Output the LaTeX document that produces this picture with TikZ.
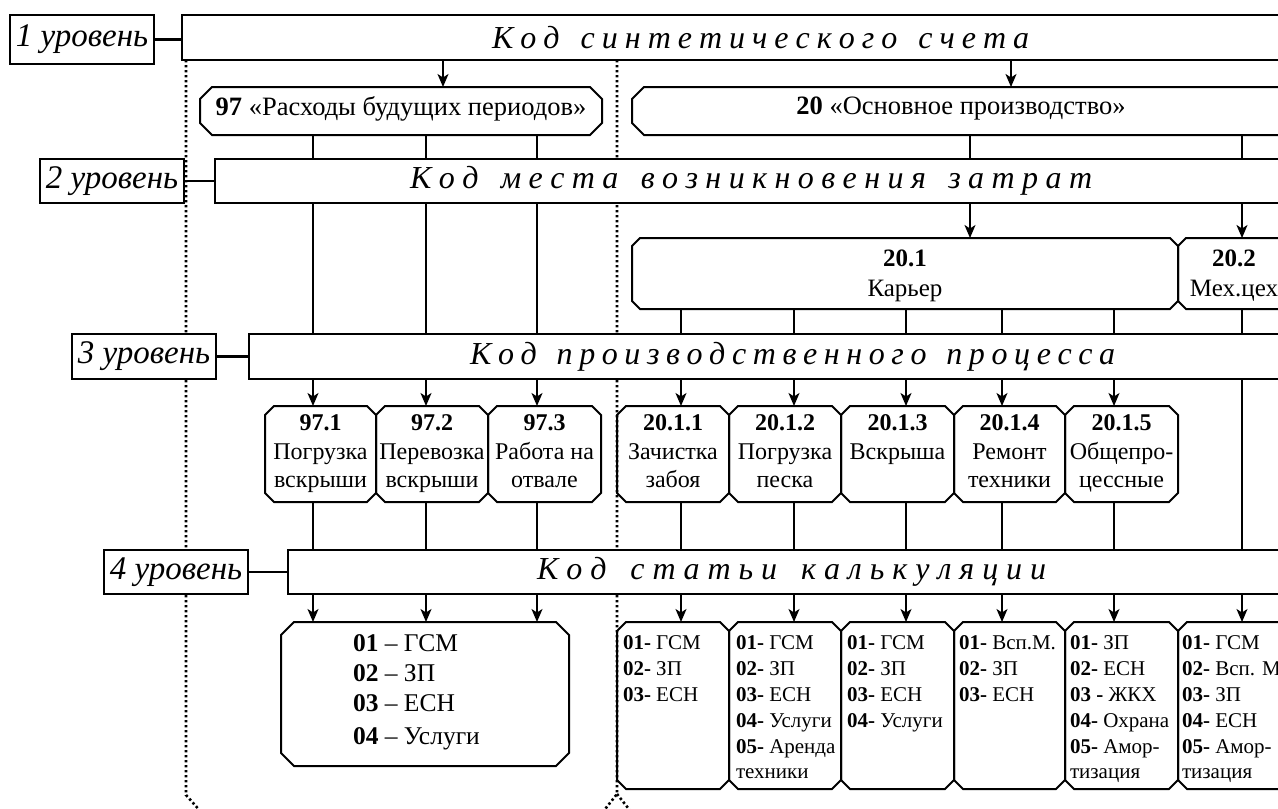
\documentclass[tikz,border=0pt]{standalone}
\usepackage{fontspec}
\setmainfont{Liberation Serif}
\usetikzlibrary{arrows.meta,calc}

\newcommand\fntbox{\fontsize{24}{28.5}\selectfont}
\newcommand\fntacc{\fontsize{26.5}{30}\selectfont}
\newcommand\fntplace{\fontsize{25}{30}\selectfont}
\newcommand\fntlab{\fontsize{33}{36}\selectfont\itshape}
\newcommand\fnthead{\fontsize{32}{36}\selectfont\itshape}
\newcommand\fntsmall{\fontsize{21}{25.8}\selectfont}
\newcommand\fntlist{\fontsize{25.5}{30}\selectfont}
\newcommand\ltgap{\hfill}
\newcommand\wdgap{\hfill\hfill\hfill}
% octagonal frame round a named node, #2 = corner cut
\newcommand\octframe[2]{\draw[octline]
  ($(#1.north west)+(#2,0)$) -- ($(#1.north east)+(-#2,0)$) --
  ($(#1.north east)+(0,#2)$) -- ($(#1.south east)+(0,-#2)$) --
  ($(#1.south east)+(-#2,0)$) -- ($(#1.south west)+(#2,0)$) --
  ($(#1.south west)+(0,-#2)$) -- ($(#1.north west)+(0,#2)$) -- cycle;}

\tikzset{
  levelbox/.style={draw, line width=2.6pt, fill=white, inner sep=0pt, outer sep=0pt,
    minimum width=144pt, font=\fntlab},
  mainbox/.style={draw, line width=2.6pt, fill=white, inner sep=0pt, outer sep=0pt,
    anchor=north west},
  cell/.style={inner sep=0pt, outer sep=0pt, anchor=north west},
  octline/.style={line width=2pt},
  conn/.style={line width=1.7pt},
  arr/.style={line width=1.7pt, -{Stealth[length=13pt,width=11pt,inset=3.5pt]}},
  sepline/.style={line width=2.6pt, dash pattern=on 2.4pt off 2.6pt},
  txt/.style={inner sep=0pt, outer sep=0pt, align=center, font=\fntbox},
  lst/.style={inner sep=0pt, outer sep=0pt, align=left, anchor=north west, font=\fntsmall},
  head/.style={anchor=west, inner sep=0pt, font=\fnthead},
}

\begin{document}
\begin{tikzpicture}[x=1pt,y=-1pt]
\useasboundingbox (0,0) rectangle (1278,809);
\clip (0,0) rectangle (1278,809);

% column positions
\coordinate (xq) at (443,0);
\coordinate (xr) at (1011,0);
\coordinate (xs) at (970,0);
\coordinate (xa) at (313,0);
\coordinate (xb) at (426,0);
\coordinate (xc) at (537,0);
\coordinate (xd) at (681,0);
\coordinate (xe) at (794,0);
\coordinate (xf) at (906,0);
\coordinate (xg) at (1002,0);
\coordinate (xh) at (1114,0);
\coordinate (xi) at (1242,0);

% dotted separators
\coordinate (s1a) at (186,60);
\coordinate (s1b) at (186,795);
\coordinate (s1c) at (202,813);
\coordinate (s2a) at (617,60);
\coordinate (s2b) at (617,794);
\coordinate (s2l) at (602,813);
\coordinate (s2r) at (632,813);
\draw[sepline] (s1a) -- (s1b) -- (s1c);
\draw[sepline] (s2a) -- (s2b) -- (s2l);
\draw[sepline] (s2b) -- (s2r);

% level bars
\node[mainbox, minimum width=1120, minimum height=45] (L1) at (182,15) {};
\node[mainbox, minimum width=1090, minimum height=44] (L2) at (215,159) {};
\node[mainbox, minimum width=1060, minimum height=45] (L3) at (249,334) {};
\node[mainbox, minimum width=1020, minimum height=44] (L4) at (288,550) {};

% level labels
\node[levelbox, minimum height=49] (G1) at (82,39.5) {1 уровень};
\node[levelbox, minimum height=44] (G2) at (112,181) {2 уровень};
\node[levelbox, minimum height=45] (G3) at (144,356.5) {3 уровень};
\node[levelbox, minimum height=44] (G4) at (176,572) {4 уровень};
\draw[conn, line width=2.2pt] (G1.east) -- (G1.east -| L1.west);
\draw[conn, line width=2.2pt] (G2.east) -- (G2.east -| L2.west);
\draw[conn, line width=2.2pt] (G3.east) -- (G3.east -| L3.west);
\draw[conn, line width=2.2pt] (G4.east) -- (G4.east -| L4.west);

% letter-spaced headings
\node[head] (h1) at (492,38) {\makebox[537pt][l]{%
К\ltgap о\ltgap д\wdgap с\ltgap и\ltgap н\ltgap т\ltgap е\ltgap т\ltgap и\ltgap ч\ltgap е\ltgap с\ltgap к\ltgap о\ltgap г\ltgap о\wdgap с\ltgap ч\ltgap е\ltgap т\ltgap а}};
\node[head] (h2) at (410,181) {\makebox[682pt][l]{%
К\ltgap о\ltgap д\wdgap м\ltgap е\ltgap с\ltgap т\ltgap а\wdgap в\ltgap о\ltgap з\ltgap н\ltgap и\ltgap к\ltgap н\ltgap о\ltgap в\ltgap е\ltgap н\ltgap и\ltgap я\wdgap з\ltgap а\ltgap т\ltgap р\ltgap а\ltgap т}};
\node[head] (h3) at (470,357) {\makebox[645pt][l]{%
К\ltgap о\ltgap д\wdgap п\ltgap р\ltgap о\ltgap и\ltgap з\ltgap в\ltgap о\ltgap д\ltgap с\ltgap т\ltgap в\ltgap е\ltgap н\ltgap н\ltgap о\ltgap г\ltgap о\wdgap п\ltgap р\ltgap о\ltgap ц\ltgap е\ltgap с\ltgap с\ltgap а}};
\node[head] (h4) at (537,572) {\makebox[509pt][l]{%
К\ltgap о\ltgap д\wdgap с\ltgap т\ltgap а\ltgap т\ltgap ь\ltgap и\wdgap к\ltgap а\ltgap л\ltgap ь\ltgap к\ltgap у\ltgap л\ltgap я\ltgap ц\ltgap и\ltgap и}};

% accounts
\node[cell, minimum width=402, minimum height=48] (b97) at (200,87) {};
\node[cell, minimum width=668, minimum height=48] (b20) at (632,87) {};
% places of cost origin
\node[cell, minimum width=546, minimum height=71] (c201) at (632,238) {};
\node[cell, minimum width=122, minimum height=71] (c202) at (1178,238) {};
% processes
\node[cell, minimum width=111, minimum height=96] (p971) at (265,406) {};
\node[cell, minimum width=112, minimum height=96] (p972) at (376,406) {};
\node[cell, minimum width=113, minimum height=96] (p973) at (488,406) {};
\node[cell, minimum width=112, minimum height=96] (p2011) at (617,406) {};
\node[cell, minimum width=112, minimum height=96] (p2012) at (729,406) {};
\node[cell, minimum width=113, minimum height=96] (p2013) at (841,406) {};
\node[cell, minimum width=111, minimum height=96] (p2014) at (954,406) {};
\node[cell, minimum width=113, minimum height=96] (p2015) at (1065,406) {};
% cost items
\node[cell, minimum width=288, minimum height=144] (k97) at (281,622) {};
\node[cell, minimum width=112, minimum height=167] (k1) at (617,622) {};
\node[cell, minimum width=112, minimum height=167] (k2) at (729,622) {};
\node[cell, minimum width=113, minimum height=167] (k3) at (841,622) {};
\node[cell, minimum width=111, minimum height=167] (k4) at (954,622) {};
\node[cell, minimum width=113, minimum height=167] (k5) at (1065,622) {};
\node[cell, minimum width=122, minimum height=167] (k6) at (1178,622) {};

\octframe{b97}{12}
\octframe{b20}{12}
\octframe{c201}{8}
\octframe{c202}{8}
\foreach \n in {p971,p972,p973,p2011,p2012,p2013,p2014,p2015,k1,k2,k3,k4,k5,k6}
  {\octframe{\n}{9}}
\octframe{k97}{13}

% connectors
\draw[arr] (L1.south -| xq) -- (b97.north -| xq);
\draw[arr] (L1.south -| xr) -- (b20.north -| xr);
\foreach \c in {xa,xb,xc} \draw[conn] (b97.south -| \c) -- (L2.north -| \c);
\foreach \c in {xs,xi} \draw[conn] (b20.south -| \c) -- (L2.north -| \c);
\draw[arr] (L2.south -| xs) -- (c201.north -| xs);
\draw[arr] (L2.south -| xi) -- (c202.north -| xi);
\foreach \c in {xa,xb,xc} \draw[conn] (L2.south -| \c) -- (L3.north -| \c);
\foreach \c in {xd,xe,xf,xg,xh} \draw[conn] (c201.south -| \c) -- (L3.north -| \c);
\draw[conn] (c202.south -| xi) -- (L3.north -| xi);
\foreach \c/\n in {xa/p971,xb/p972,xc/p973,xd/p2011,xe/p2012,xf/p2013,xg/p2014,xh/p2015}
  {\draw[arr] (L3.south -| \c) -- (\n.north -| \c);
   \draw[conn] (\n.south -| \c) -- (L4.north -| \c);}
\draw[conn] (L3.south -| xi) -- (L4.north -| xi);
\foreach \c in {xa,xb,xc} \draw[arr] (L4.south -| \c) -- (k97.north -| \c);
\foreach \c/\n in {xd/k1,xe/k2,xf/k3,xg/k4,xh/k5,xi/k6} \draw[arr] (L4.south -| \c) -- (\n.north -| \c);

% texts
\node[txt, font=\fntacc] (t97) at (401,109) {\textbf{97} «Расходы будущих периодов»};
\node[txt, font=\fntacc] (t20) at (961,109) {\textbf{20} «Основное производство»};
\node[txt, font=\fntplace, anchor=north] (t201) at (905,250) {\textbf{20.1}\\Карьер};
\node[txt, font=\fntplace, anchor=north] (t202) at (1234,250) {\textbf{20.2}\\Мех.цех};
\node[txt, anchor=north] (t971) at (320.5,415) {\textbf{97.1}\\Погрузка\\вскрыши};
\node[txt, anchor=north] (t972) at (432,415) {\textbf{97.2}\\Перевозка\\вскрыши};
\node[txt, anchor=north] (t973) at (544.5,415) {\textbf{97.3}\\Работа на\\отвале};
\node[txt, anchor=north] (t2011) at (673,415) {\textbf{20.1.1}\\Зачистка\\забоя};
\node[txt, anchor=north] (t2012) at (785,415) {\textbf{20.1.2}\\Погрузка\\песка};
\node[txt, anchor=north] (t2013) at (897.5,415) {\textbf{20.1.3}\\Вскрыша};
\node[txt, anchor=north] (t2014) at (1009.5,415) {\textbf{20.1.4}\\Ремонт\\техники};
\node[txt, anchor=north] (t2015) at (1121.5,415) {\textbf{20.1.5}\\Общепро-\\цессные};

\node[lst, font=\fntlist] (l97) at (353,635) {\textbf{01} – ГСМ\\\textbf{02} – ЗП\\\textbf{03} – ЕСН\\[3pt]\textbf{04} – Услуги};
\node[lst] (l1) at (623,636) {\textbf{01-} ГСМ\\\textbf{02-} ЗП\\\textbf{03-} ЕСН};
\node[lst] (l2) at (736,636) {\textbf{01-} ГСМ\\\textbf{02-} ЗП\\\textbf{03-} ЕСН\\\textbf{04-} Услуги\\\textbf{05-} Аренда\\техники};
\node[lst] (l3) at (847,636) {\textbf{01-} ГСМ\\\textbf{02-} ЗП\\\textbf{03-} ЕСН\\\textbf{04-} Услуги};
\node[lst] (l4) at (959,636) {\textbf{01-} Всп.М.\\\textbf{02-} ЗП\\\textbf{03-} ЕСН};
\node[lst] (l5) at (1070,636) {\textbf{01-} ЗП\\\textbf{02-} ЕСН\\\textbf{03 -} ЖКХ\\\textbf{04-} Охрана\\\textbf{05-} Амор-\\тизация};
\node[lst] (l6) at (1182,636) {\textbf{01-} ГСМ\\\textbf{02-} Всп. М\\\textbf{03-} ЗП\\\textbf{04-} ЕСН\\\textbf{05-} Амор-\\тизация};
\end{tikzpicture}
\end{document}
